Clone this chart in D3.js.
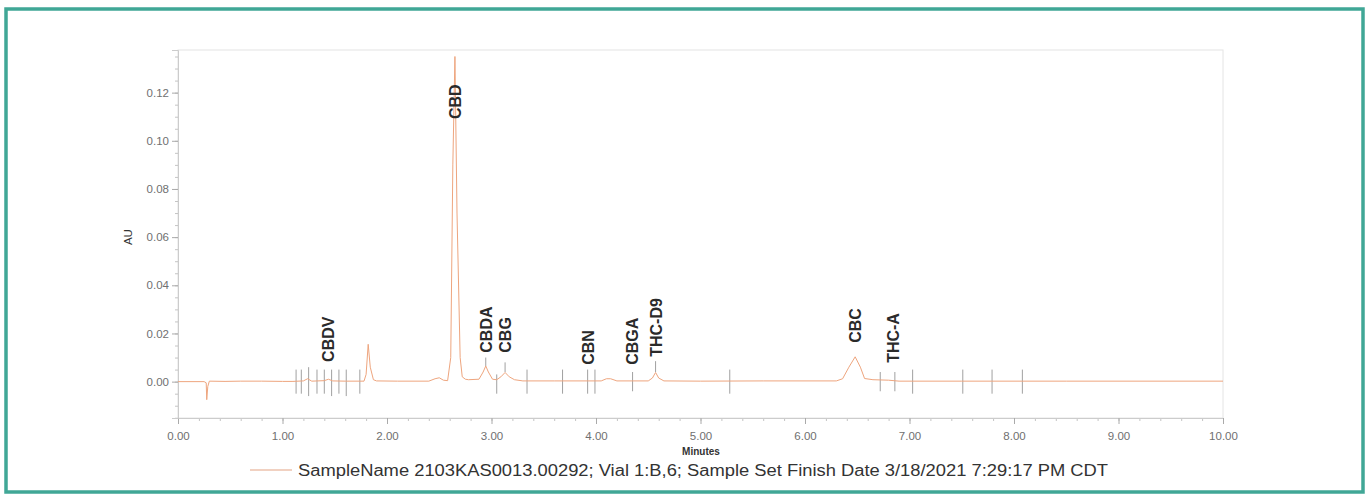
<!DOCTYPE html>
<html>
<head>
<meta charset="utf-8">
<script src="https://cdn.jsdelivr.net/npm/d3@7/dist/d3.min.js"></script>
<style>
  html, body { margin: 0; padding: 0; background: #fff; }
  svg { display: block; font-family: "Liberation Sans", Arial, sans-serif; }
</style>
</head>
<body>
<svg id="chart" width="1369" height="500"></svg>
<script>
// ---------- data ----------
const traceTime = [0.00, 0.25, 0.27, 0.275, 0.285, 0.30, 0.45, 0.60, 0.80, 1.00, 1.10, 1.20, 1.24, 1.28, 1.40, 1.44, 1.48, 1.60, 1.78, 1.80, 1.82, 1.84, 1.87, 1.90, 2.10, 2.40, 2.46, 2.50, 2.54, 2.58, 2.61, 2.63, 2.65, 2.67, 2.70, 2.72, 2.75, 2.78, 2.88, 2.92, 2.945, 2.97, 3.01, 3.05, 3.09, 3.13, 3.17, 3.22, 3.30, 3.60, 4.05, 4.10, 4.14, 4.20, 4.50, 4.54, 4.57, 4.60, 4.65, 5.00, 5.60, 6.30, 6.36, 6.42, 6.48, 6.53, 6.57, 6.65, 6.80, 6.90, 7.50, 8.50, 10.00];
const traceAU   = [0.0000, 0.0000, -0.0005, -0.0075, -0.0020, 0.0002, 0.0001, 0.0002, 0.0002, 0.0001, 0.0001, 0.0003, 0.0012, 0.0002, 0.0004, 0.0010, 0.0003, 0.0002, 0.0002, 0.0030, 0.0155, 0.0060, 0.0008, 0.0003, 0.0002, 0.0002, 0.0012, 0.0016, 0.0006, 0.0004, 0.0100, 0.0900, 0.1350, 0.0700, 0.0100, 0.0020, 0.0010, 0.0008, 0.0010, 0.0040, 0.0065, 0.0040, 0.0010, 0.0008, 0.0020, 0.0038, 0.0020, 0.0008, 0.0003, 0.0003, 0.0003, 0.0012, 0.0012, 0.0003, 0.0003, 0.0015, 0.0038, 0.0015, 0.0003, 0.0002, 0.0003, 0.0003, 0.0012, 0.0060, 0.0103, 0.0060, 0.0013, 0.0008, 0.0006, 0.0002, 0.0002, 0.0002, 0.0002];

const peakNames  = ["CBDV", "CBD", "CBDA", "CBG", "CBN", "CBGA", "THC-D9", "CBC", "THC-A"];
const peakTimes  = [1.435, 2.65, 2.945, 3.13, 3.92, 4.34, 4.57, 6.48, 6.84];
const peakLabelAU = [0.0082, 0.109, 0.0120, 0.0120, 0.0070, 0.0070, 0.0103, 0.0161, 0.0078];

const markerTimes = [1.13, 1.18, 1.25, 1.33, 1.40, 1.47, 1.54, 1.61, 1.74, 2.945, 3.05, 3.13, 3.34, 3.68, 3.92, 3.99, 4.35, 4.57, 5.28, 6.72, 6.86, 7.03, 7.51, 7.79, 8.08];
const markerLow   = [-0.005, -0.005, -0.006, -0.005, -0.005, -0.006, -0.005, -0.006, -0.005, 0.0065, -0.005, 0.0040, -0.005, -0.005, -0.005, -0.005, -0.004, 0.0040, -0.005, -0.004, -0.004, -0.005, -0.005, -0.005, -0.005];
const markerHigh  = [0.005, 0.005, 0.006, 0.005, 0.005, 0.005, 0.005, 0.005, 0.005, 0.0100, 0.003, 0.0080, 0.005, 0.005, 0.005, 0.005, 0.004, 0.0085, 0.005, 0.004, 0.004, 0.005, 0.005, 0.005, 0.005];

const xTickValues = [0, 1, 2, 3, 4, 5, 6, 7, 8, 9, 10];
const xTickLabels = ["0.00", "1.00", "2.00", "3.00", "4.00", "5.00", "6.00", "7.00", "8.00", "9.00", "10.00"];
const yTickValues = [0.00, 0.02, 0.04, 0.06, 0.08, 0.10, 0.12];
const yTickLabels = ["0.00", "0.02", "0.04", "0.06", "0.08", "0.10", "0.12"];
const xMinorTicks = d3.range(0, 10.001, 0.2);
const yMinorTicks = d3.range(-0.015, 0.1376, 0.005);

const xTitle = "Minutes";
const yTitle = "AU";
const legendText = "SampleName 2103KAS0013.00292; Vial 1:B,6; Sample Set Finish Date 3/18/2021 7:29:17 PM CDT";

// ---------- drawing ----------
const svg = d3.select("#chart");
const pL = 178, pR = 1223, pT = 50, pB = 418;

const x = d3.scaleLinear().domain([0, 10]).range([pL, pR]);
const y = d3.scaleLinear().domain([-0.0151, 0.1377]).range([pB, pT]);

// outer teal frame
svg.append("rect")
  .attr("x", 6).attr("y", 9).attr("width", 1357).attr("height", 483)
  .attr("fill", "#fff").attr("stroke", "#40a796").attr("stroke-width", 3.5);

// plot box
svg.append("rect")
  .attr("x", pL).attr("y", pT).attr("width", pR - pL).attr("height", pB - pT)
  .attr("fill", "none").attr("stroke", "#e4e4e4").attr("stroke-width", 1);

// minor ticks
svg.append("g").attr("transform", `translate(0,${pB})`)
  .call(d3.axisBottom(x).tickValues(xMinorTicks).tickSize(3).tickFormat(""))
  .call(g => g.select(".domain").remove())
  .selectAll("line").attr("stroke", "#c4c4c4");
svg.append("g").attr("transform", `translate(${pL},0)`)
  .call(d3.axisLeft(y).tickValues(yMinorTicks).tickSize(3).tickFormat(""))
  .call(g => g.select(".domain").remove())
  .selectAll("line").attr("stroke", "#c4c4c4");

// major axes
const xAxis = svg.append("g").attr("transform", `translate(0,${pB})`)
  .call(d3.axisBottom(x).tickValues(xTickValues).tickSize(6).tickPadding(8)
    .tickFormat((d, i) => xTickLabels[i]));
xAxis.select(".domain").attr("stroke", "#cccccc");
xAxis.selectAll(".tick line").attr("stroke", "#aaa");
xAxis.selectAll("text").attr("fill", "#707070").attr("font-size", 11.5);

const yAxis = svg.append("g").attr("transform", `translate(${pL},0)`)
  .call(d3.axisLeft(y).tickValues(yTickValues).tickSize(6).tickPadding(3)
    .tickFormat((d, i) => yTickLabels[i]));
yAxis.select(".domain").attr("stroke", "#cccccc");
yAxis.selectAll(".tick line").attr("stroke", "#aaa");
yAxis.selectAll("text").attr("fill", "#707070").attr("font-size", 11.5);

// axis titles
svg.append("text").attr("x", (pL + pR) / 2 + 0.5).attr("y", 455)
  .attr("text-anchor", "middle").attr("font-size", 10).attr("font-weight", "bold")
  .attr("fill", "#333").text(xTitle);
svg.append("text").attr("transform", `translate(132,${y(0.06)}) rotate(-90)`)
  .attr("text-anchor", "middle").attr("font-size", 11.5).attr("fill", "#333").text(yTitle);

// integration markers
svg.append("g").selectAll("line").data(markerTimes).join("line")
  .attr("x1", d => x(d)).attr("x2", d => x(d))
  .attr("y1", (d, i) => y(markerLow[i])).attr("y2", (d, i) => y(markerHigh[i]))
  .attr("stroke", "#a0a0a0").attr("stroke-width", 1);

// trace
const traceData = traceTime.map((t, i) => [t, traceAU[i]]);
svg.append("path").datum(traceData)
  .attr("fill", "none").attr("stroke", "#eea57e").attr("stroke-width", 1)
  .attr("d", d3.line().x(d => x(d[0])).y(d => y(d[1])));

// peak labels
svg.append("g").selectAll("text").data(peakNames).join("text")
  .attr("transform", (d, i) => `translate(${x(peakTimes[i]) + 6},${y(peakLabelAU[i])}) rotate(-90)`)
  .attr("text-anchor", "start").attr("font-size", 16).attr("font-weight", "bold")
  .attr("fill", "#2a2a2a").text(d => d);

// legend
svg.append("line").attr("x1", 250).attr("x2", 292).attr("y1", 470).attr("y2", 470)
  .attr("stroke", "#ecc2ad").attr("stroke-width", 1.5);
svg.append("text").attr("x", 298).attr("y", 476)
  .attr("font-size", 16).attr("fill", "#333")
  .attr("textLength", 810).attr("lengthAdjust", "spacingAndGlyphs")
  .text(legendText);
</script>
</body>
</html>
